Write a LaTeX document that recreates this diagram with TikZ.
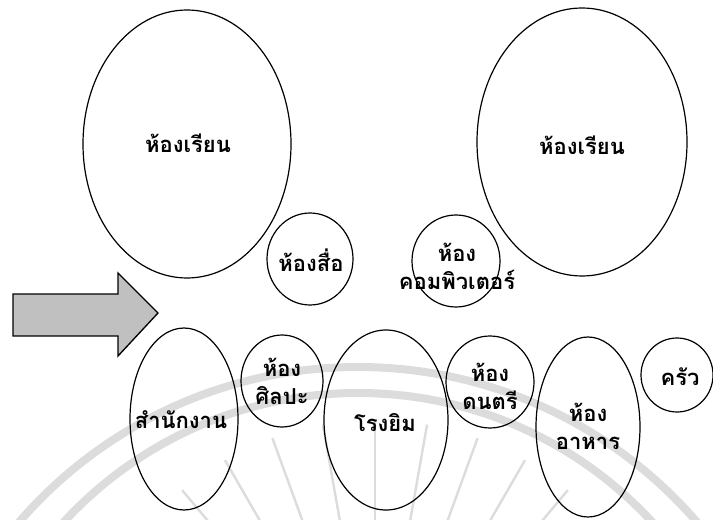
\documentclass[tikz,border=0pt]{standalone}
\usepackage{fontspec}
\newfontfamily\thaifont[Script=Thai]{Loma}
\begin{document}
\begin{tikzpicture}[x=0.75pt,y=0.75pt,yscale=-1,xscale=1,
  room/.style={font=\thaifont\bfseries\fontsize{16.5}{21}\selectfont,align=center,inner sep=0.75pt},
  bubble/.style={line width=0.9pt},
  crest/.style={color={rgb, 255:red, 220; green, 220; blue, 220}}]
\useasboundingbox (0,0) rectangle (713,520);

%Watermark
\begin{scope}
\clip (0,0) rectangle (713,520);
\draw [crest,line width=6pt] (358,815) circle [radius=448];
\draw [crest,line width=6pt] (358,793) circle [radius=400];
\clip (358,793) circle [radius=388];
\foreach \a in {-30,-40,...,-150}
  \draw [crest,line width=1.8pt,shift={(375,720)}] (\a:125) -- (\a:300);
\end{scope}

%Shape: Arrow
\draw [fill={rgb, 255:red, 192; green, 192; blue, 192},line width=1pt] (13,294) -- (118,294) -- (118,273) -- (158,313) -- (118,356) -- (118,336) -- (13,336) -- cycle ;

%Shape: Ellipse
\draw [bubble] (187,144) ellipse [x radius=104, y radius=134];
%Shape: Ellipse
\draw [bubble] (582,142) ellipse [x radius=105, y radius=134];
%Shape: Circle
\draw [bubble] (310,259) ellipse [x radius=43, y radius=46];
%Shape: Circle
\draw [bubble] (456,261) ellipse [x radius=44, y radius=46];
%Shape: Ellipse
\draw [bubble] (184,419) ellipse [x radius=54, y radius=91];
%Shape: Circle
\draw [bubble] (282,381) ellipse [x radius=41, y radius=46];
%Shape: Ellipse
\draw [bubble] (386,420) ellipse [x radius=62, y radius=90];
%Shape: Circle
\draw [bubble] (490,382) ellipse [x radius=44, y radius=46];
%Shape: Ellipse
\draw [bubble] (588,427) ellipse [x radius=52, y radius=90];
%Shape: Circle
\draw [bubble] (677,375) ellipse [x radius=36, y radius=37];

% Text Node
\node [room] (classA) at (188,143) {ห้องเรียน};
% Text Node
\node [room] (classB) at (582,145) {ห้องเรียน};
% Text Node
\node [room] (media) at (311,260) {ห้องสื่อ};
% Text Node
\node [room] (computer) at (457,266) {ห้อง\\คอมพิวเตอร์};
% Text Node
\node [room] (office) at (181,420) {สำนักงาน};
% Text Node
\node [room] (art) at (282,381) {ห้อง\\ศิลปะ};
% Text Node
\node [room] (gym) at (385,423) {โรงยิม};
% Text Node
\node [room] (music) at (490,386) {ห้อง\\ดนตรี};
% Text Node
\node [room] (dining) at (588,426) {ห้อง\\อาหาร};
% Text Node
\node [room] (kitchen) at (680,377) {ครัว};

\end{tikzpicture}
\end{document}
